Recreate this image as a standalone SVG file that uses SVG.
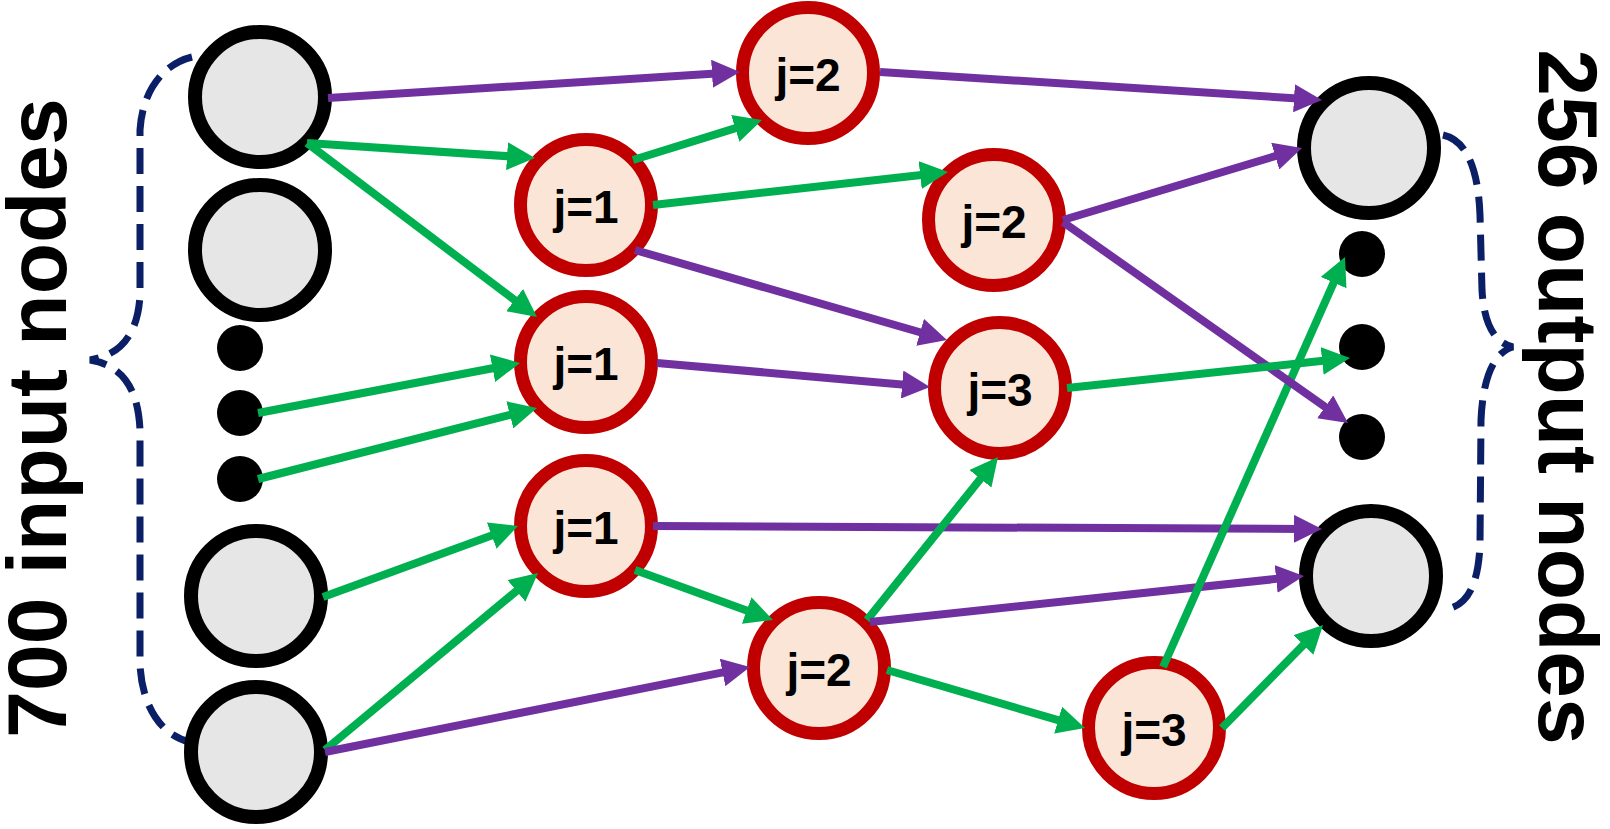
<svg xmlns="http://www.w3.org/2000/svg" width="1610" height="829" viewBox="0 0 1610 829">
<style>
.io{fill:#e7e6e6;stroke:#000;stroke-width:14}
.dot{fill:#000}
.hid{fill:#fbe5d6;stroke:#c00000;stroke-width:13}
.lbl{font-family:"Liberation Sans",Arial,sans-serif;font-weight:bold;font-size:46px;fill:#000;text-anchor:middle}
.big{font-family:"Liberation Sans",Arial,sans-serif;font-weight:bold;font-size:84px;fill:#000;text-anchor:middle}
.g{stroke:#00b050;stroke-width:8;fill:none;marker-end:url(#ag)}
.p{stroke:#7030a0;stroke-width:8;fill:none;marker-end:url(#ap)}
.brace{fill:none;stroke:#0b1f66;stroke-width:7;stroke-dasharray:26 12}
</style>
<defs>
<marker id="ag" markerUnits="userSpaceOnUse" viewBox="0 0 28 28" markerWidth="28" markerHeight="28" refX="8" refY="14" orient="auto"><path d="M0,0 L28,14 L0,28 z" fill="#00b050"/></marker>
<marker id="ap" markerUnits="userSpaceOnUse" viewBox="0 0 28 28" markerWidth="28" markerHeight="28" refX="8" refY="14" orient="auto"><path d="M0,0 L28,14 L0,28 z" fill="#7030a0"/></marker>
</defs>
<rect width="1610" height="829" fill="#fff"/>
<g id="braces">
<path class="brace" d="M192,57 C160,65 142,95 140,130 L140,295 C138,335 120,355 90,360 C120,365 138,385 140,430 L140,665 C142,705 160,735 190,742"/>
<path class="brace" d="M1443,135 C1465,140 1478,165 1480,215 L1482,290 C1484,325 1495,343 1513,347 C1495,352 1483,375 1481,420 L1480,545 C1478,590 1465,607 1443,610"/>
</g>
<g id="label-input"><text class="big" transform="translate(66,418) rotate(-90)">700 input nodes</text></g>
<g id="label-output"><text class="big" transform="translate(1539,397) rotate(90)">256 output nodes</text></g>
<g id="in1"><circle class="io" cx="260" cy="97" r="65"/></g>
<g id="in2"><circle class="io" cx="260" cy="250" r="65"/></g>
<g id="in-dot1"><circle class="dot" cx="240" cy="348" r="23"/></g>
<g id="in-dot2"><circle class="dot" cx="240" cy="413" r="23"/></g>
<g id="in-dot3"><circle class="dot" cx="240" cy="479" r="23"/></g>
<g id="in3"><circle class="io" cx="256" cy="596" r="65"/></g>
<g id="in4"><circle class="io" cx="256" cy="752" r="65"/></g>
<g id="out1"><circle class="io" cx="1369" cy="148" r="65"/></g>
<g id="out-dot1"><circle class="dot" cx="1362" cy="254" r="23"/></g>
<g id="out-dot2"><circle class="dot" cx="1362" cy="347" r="23"/></g>
<g id="out-dot3"><circle class="dot" cx="1362" cy="437" r="23"/></g>
<g id="out2"><circle class="io" cx="1371" cy="576" r="65"/></g>
<g id="h1a"><circle class="hid" cx="586" cy="205" r="65.5"/><text class="lbl" x="586" y="223">j=1</text></g>
<g id="h1b"><circle class="hid" cx="586" cy="362" r="65.5"/><text class="lbl" x="586" y="380">j=1</text></g>
<g id="h1c"><circle class="hid" cx="586" cy="526" r="65.5"/><text class="lbl" x="586" y="544">j=1</text></g>
<g id="h2a"><circle class="hid" cx="808" cy="73" r="65.5"/><text class="lbl" x="808" y="91">j=2</text></g>
<g id="h2b"><circle class="hid" cx="994" cy="220" r="65.5"/><text class="lbl" x="994" y="238">j=2</text></g>
<g id="h2c"><circle class="hid" cx="819" cy="668" r="65.5"/><text class="lbl" x="819" y="686">j=2</text></g>
<g id="h3a"><circle class="hid" cx="1000" cy="388" r="65.5"/><text class="lbl" x="1000" y="406">j=3</text></g>
<g id="h3b"><circle class="hid" cx="1154" cy="728" r="65.5"/><text class="lbl" x="1154" y="746">j=3</text></g>
<g id="connectors">
<path class="p" d="M328,98 L720,73.3"/>
<path class="g" d="M307,143 L515,156.7"/>
<path class="g" d="M307,143 L521,304.9"/>
<path class="g" d="M633,160 L742.9,125.9"/>
<path class="g" d="M653,205 L928.1,174.2"/>
<path class="p" d="M635,250 L927.8,334.5"/>
<path class="g" d="M258,413 L500.4,366.7"/>
<path class="g" d="M258,479 L517.6,412.9"/>
<path class="p" d="M657,363 L910.1,385.2"/>
<path class="g" d="M323,597 L499.2,532.8"/>
<path class="g" d="M325,750 L522.6,585.8"/>
<path class="p" d="M325,752 L730.4,670.9"/>
<path class="p" d="M653,526 L1302,528.9"/>
<path class="g" d="M635,570 L754.2,613.2"/>
<path class="g" d="M867,620 L985.5,472.6"/>
<path class="p" d="M870,622 L1284.1,578.1"/>
<path class="g" d="M887,670 L1065.8,722.4"/>
<path class="g" d="M1163,667 L1336.9,275.3"/>
<path class="g" d="M1222,728 L1309,639.3"/>
<path class="p" d="M880,72 L1302,98.7"/>
<path class="p" d="M1063,220 L1282.9,153.8"/>
<path class="p" d="M1063,222 L1331.7,411.5"/>
<path class="g" d="M1067,388 L1330.1,360.1"/>
</g>
</svg>
